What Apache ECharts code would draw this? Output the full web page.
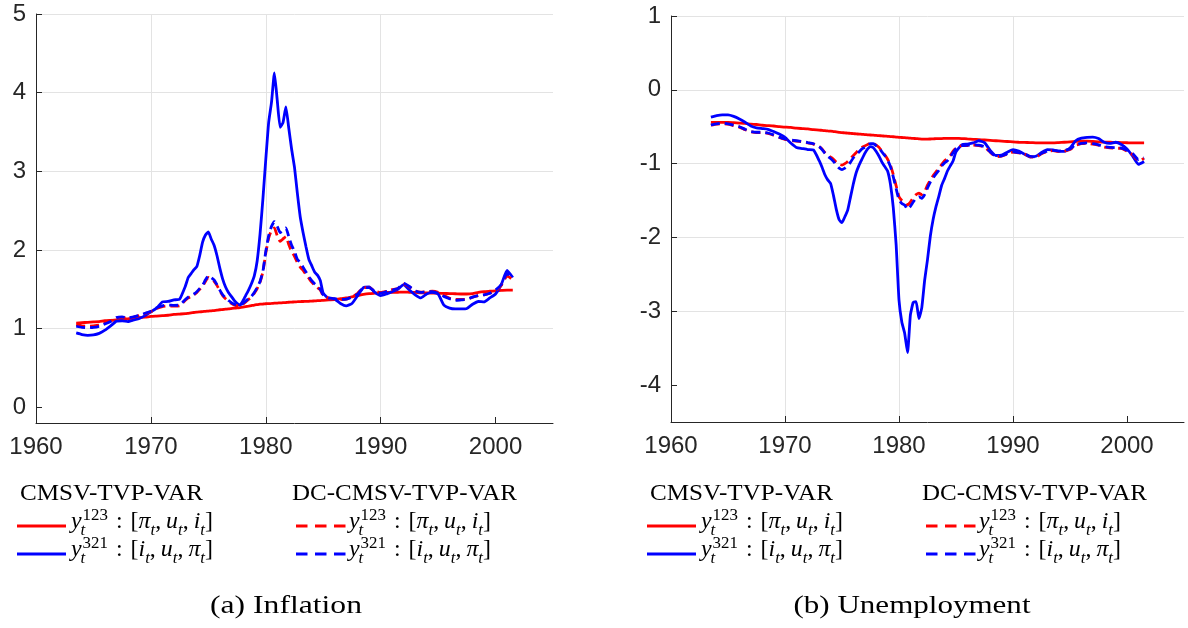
<!DOCTYPE html>
<html>
<head>
<meta charset="utf-8">
<script src="https://cdn.jsdelivr.net/npm/echarts@6/dist/echarts.min.js"></script>
<style>
html,body{margin:0;padding:0;background:#fff;}
#chart{width:1188px;height:628px;}
</style>
</head>
<body>
<div id="chart"></div>
<script>
// ---------- data ----------
const years = [
  1963.5,1964,1964.5,1965,1965.5,1966,1966.5,1967,1967.5,1968,1968.5,1969,1969.5,1970,1970.5,1971,1971.5,1972,1972.5,
  1973,1973.25,1973.5,1973.75,1974,1974.25,1974.5,1974.75,1975,1975.25,1975.5,1975.75,1976,1976.25,1976.5,1976.75,
  1977,1977.25,1977.5,1977.75,1978,1978.25,1978.5,1978.75,1979,1979.25,1979.5,1979.75,1980,1980.25,1980.5,1980.75,
  1981,1981.25,1981.5,1981.75,1982,1982.25,1982.5,1982.75,1983,1983.25,1983.5,1983.75,1984,1984.25,1984.5,1984.75,
  1985,1985.5,1986,1986.5,1987,1987.5,1988,1988.5,1989,1989.5,1990,1990.5,1991,1991.5,1992,1992.5,1993,1993.5,
  1994,1994.5,1995,1995.5,1996,1996.5,1997,1997.5,1998,1998.5,1999,1999.5,2000,2000.5,2001,2001.5
];
const xTicks = [1960,1970,1980,1990,2000];
const yTicksInfl = [0,1,2,3,4,5];
const yTicksUnemp = [-4,-3,-2,-1,0,1];

// Inflation, CMSV-TVP-VAR, ordering 123 (red solid)
const inflCMSV123 = [
  1.07,1.075,1.08,1.085,1.09,1.10,1.105,1.11,1.12,1.125,1.13,1.14,1.145,1.155,1.16,1.165,1.17,1.18,1.185,
  1.19,1.195,1.20,1.205,1.21,1.213,1.216,1.22,1.223,1.226,1.23,1.235,1.24,1.243,1.247,1.25,
  1.255,1.26,1.263,1.267,1.273,1.28,1.286,1.293,1.30,1.305,1.31,1.313,1.316,1.318,1.32,1.323,
  1.325,1.327,1.33,1.332,1.335,1.337,1.34,1.342,1.344,1.345,1.347,1.348,1.35,1.352,1.355,1.357,
  1.36,1.365,1.37,1.38,1.39,1.405,1.42,1.435,1.445,1.45,1.455,1.46,1.46,1.462,1.465,1.462,1.46,1.455,
  1.455,1.452,1.45,1.448,1.445,1.443,1.44,1.44,1.445,1.46,1.47,1.475,1.48,1.485,1.49,1.49
];
// Inflation, CMSV-TVP-VAR, ordering 321 (blue solid)
const inflCMSV321 = [
  0.945,0.925,0.915,0.92,0.94,0.98,1.035,1.095,1.10,1.09,1.11,1.13,1.165,1.215,1.26,1.34,1.345,1.365,1.375,
  1.54,1.65,1.70,1.75,1.79,1.93,2.10,2.19,2.23,2.14,2.06,1.93,1.77,1.63,1.53,1.46,
  1.41,1.36,1.32,1.30,1.35,1.42,1.49,1.57,1.67,1.86,2.20,2.65,3.15,3.62,3.88,4.25,
  3.90,3.56,3.62,3.82,3.55,3.28,3.05,2.72,2.42,2.22,2.04,1.88,1.80,1.72,1.68,1.61,
  1.45,1.38,1.375,1.32,1.29,1.32,1.42,1.52,1.53,1.46,1.42,1.44,1.47,1.50,1.56,1.49,1.43,1.39,
  1.44,1.46,1.44,1.30,1.26,1.25,1.25,1.255,1.31,1.345,1.34,1.39,1.44,1.56,1.74,1.65
];
// Inflation, DC-CMSV-TVP-VAR, ordering 123 (red dashed)
const inflDC123 = [
  1.05,1.035,1.03,1.035,1.045,1.07,1.10,1.135,1.14,1.13,1.145,1.165,1.19,1.215,1.255,1.28,1.29,1.285,1.29,
  1.36,1.39,1.41,1.43,1.46,1.50,1.54,1.60,1.65,1.63,1.60,1.55,1.48,1.42,1.38,1.35,
  1.32,1.30,1.29,1.295,1.31,1.34,1.37,1.40,1.45,1.51,1.59,1.72,1.96,2.15,2.25,2.28,
  2.18,2.11,2.14,2.17,2.07,1.98,1.92,1.84,1.78,1.74,1.69,1.64,1.59,1.55,1.52,1.49,
  1.42,1.385,1.375,1.37,1.375,1.40,1.45,1.52,1.52,1.475,1.46,1.475,1.495,1.51,1.565,1.53,1.48,1.465,
  1.47,1.475,1.46,1.42,1.385,1.37,1.37,1.375,1.40,1.42,1.43,1.45,1.48,1.55,1.67,1.62
];
// Inflation, DC-CMSV-TVP-VAR, ordering 321 (blue dashed)
const inflDC321 = [
  1.03,1.015,1.01,1.015,1.03,1.06,1.09,1.14,1.15,1.135,1.15,1.17,1.195,1.22,1.265,1.29,1.30,1.295,1.30,
  1.37,1.40,1.42,1.44,1.47,1.51,1.55,1.62,1.67,1.65,1.62,1.56,1.49,1.43,1.39,1.36,
  1.33,1.31,1.30,1.305,1.32,1.35,1.38,1.41,1.46,1.52,1.60,1.73,1.98,2.18,2.30,2.36,
  2.30,2.22,2.26,2.28,2.17,2.06,1.98,1.88,1.84,1.78,1.72,1.66,1.61,1.57,1.54,1.50,
  1.43,1.39,1.38,1.37,1.375,1.40,1.44,1.52,1.52,1.47,1.45,1.47,1.49,1.51,1.575,1.535,1.48,1.46,
  1.47,1.47,1.45,1.41,1.38,1.36,1.365,1.37,1.40,1.42,1.43,1.45,1.49,1.56,1.70,1.63
];

// Unemployment, CMSV-TVP-VAR, ordering 123 (red solid)
const unempCMSV123 = [
  -0.44,-0.44,-0.44,-0.44,-0.445,-0.45,-0.455,-0.465,-0.47,-0.48,-0.485,-0.49,-0.50,-0.505,-0.51,-0.52,-0.525,-0.53,-0.54,
  -0.545,-0.55,-0.553,-0.557,-0.56,-0.565,-0.57,-0.575,-0.58,-0.583,-0.587,-0.59,-0.593,-0.597,-0.60,-0.603,
  -0.606,-0.609,-0.612,-0.615,-0.618,-0.621,-0.624,-0.627,-0.63,-0.633,-0.636,-0.64,-0.643,-0.646,-0.649,-0.652,
  -0.655,-0.658,-0.661,-0.664,-0.667,-0.668,-0.668,-0.666,-0.664,-0.662,-0.66,-0.66,-0.658,-0.657,-0.657,-0.657,
  -0.658,-0.66,-0.665,-0.67,-0.675,-0.68,-0.685,-0.69,-0.695,-0.70,-0.705,-0.71,-0.712,-0.715,-0.718,-0.72,-0.72,-0.72,
  -0.715,-0.71,-0.705,-0.70,-0.695,-0.695,-0.70,-0.705,-0.708,-0.71,-0.712,-0.715,-0.717,-0.72,-0.72,-0.72
];
// Unemployment, CMSV-TVP-VAR, ordering 321 (blue solid)
const unempCMSV321 = [
  -0.37,-0.35,-0.34,-0.34,-0.36,-0.395,-0.44,-0.49,-0.515,-0.525,-0.535,-0.565,-0.60,-0.645,-0.72,-0.78,-0.795,-0.81,-0.815,
  -0.96,-1.05,-1.15,-1.22,-1.27,-1.43,-1.62,-1.76,-1.80,-1.72,-1.63,-1.45,-1.27,-1.12,-1.02,-0.94,
  -0.86,-0.80,-0.77,-0.785,-0.835,-0.90,-0.98,-1.04,-1.10,-1.28,-1.60,-2.10,-2.85,-3.15,-3.30,-3.56,
  -3.05,-2.88,-2.87,-3.10,-2.95,-2.58,-2.30,-1.98,-1.75,-1.58,-1.44,-1.29,-1.20,-1.10,-1.03,-0.96,
  -0.84,-0.745,-0.735,-0.72,-0.69,-0.715,-0.82,-0.89,-0.885,-0.845,-0.81,-0.83,-0.87,-0.91,-0.90,-0.85,-0.81,-0.815,
  -0.83,-0.835,-0.79,-0.69,-0.655,-0.645,-0.64,-0.66,-0.71,-0.725,-0.71,-0.74,-0.80,-0.90,-1.01,-0.97
];
// Unemployment, DC-CMSV-TVP-VAR, ordering 123 (red dashed)
const unempDC123 = [
  -0.48,-0.465,-0.46,-0.465,-0.485,-0.505,-0.54,-0.57,-0.58,-0.58,-0.59,-0.615,-0.645,-0.67,-0.685,-0.695,-0.705,-0.72,-0.735,
  -0.77,-0.80,-0.85,-0.88,-0.91,-0.94,-0.98,-1.01,-1.02,-1.00,-0.97,-0.93,-0.89,-0.85,-0.81,-0.78,
  -0.76,-0.74,-0.725,-0.725,-0.75,-0.78,-0.83,-0.88,-0.94,-1.02,-1.15,-1.30,-1.45,-1.50,-1.53,-1.56,
  -1.52,-1.46,-1.42,-1.40,-1.42,-1.38,-1.29,-1.22,-1.16,-1.11,-1.06,-1.01,-0.96,-0.93,-0.89,-0.83,
  -0.79,-0.755,-0.755,-0.75,-0.755,-0.775,-0.845,-0.905,-0.90,-0.87,-0.845,-0.855,-0.87,-0.905,-0.915,-0.865,-0.835,-0.825,
  -0.835,-0.83,-0.81,-0.75,-0.73,-0.725,-0.735,-0.75,-0.775,-0.785,-0.79,-0.795,-0.83,-0.88,-0.96,-0.93
];
// Unemployment, DC-CMSV-TVP-VAR, ordering 321 (blue dashed)
const unempDC321 = [
  -0.475,-0.46,-0.45,-0.46,-0.48,-0.50,-0.535,-0.565,-0.575,-0.575,-0.585,-0.61,-0.64,-0.665,-0.68,-0.69,-0.70,-0.715,-0.73,
  -0.77,-0.81,-0.86,-0.90,-0.93,-0.97,-1.02,-1.06,-1.08,-1.06,-1.03,-0.98,-0.92,-0.88,-0.84,-0.80,
  -0.78,-0.75,-0.73,-0.73,-0.755,-0.79,-0.84,-0.89,-0.95,-1.04,-1.18,-1.34,-1.49,-1.54,-1.56,-1.62,
  -1.58,-1.52,-1.47,-1.45,-1.47,-1.42,-1.33,-1.25,-1.19,-1.14,-1.09,-1.03,-0.99,-0.96,-0.91,-0.85,
  -0.80,-0.755,-0.75,-0.745,-0.75,-0.77,-0.84,-0.90,-0.895,-0.865,-0.84,-0.85,-0.865,-0.90,-0.91,-0.86,-0.83,-0.82,
  -0.83,-0.82,-0.80,-0.745,-0.725,-0.72,-0.73,-0.745,-0.77,-0.78,-0.785,-0.79,-0.82,-0.865,-0.945,-0.92
];

const modelNames = ['CMSV-TVP-VAR', 'DC-CMSV-TVP-VAR'];
const captions = ['(a) Inflation', '(b) Unemployment'];

// ---------- helpers ----------
const RED = '#ff0000', BLUE = '#0000ff';
const SANS = '"Liberation Sans", Arial, Helvetica, sans-serif';
const SERIF = '"Liberation Serif", "DejaVu Serif", serif';
const DASH = [9, 5];
const pairs = arr => years.map((y, i) => [y, arr[i]]);

const mctx = document.createElement('canvas').getContext('2d');
function measure(t, size, italic) {
  mctx.font = (italic ? 'italic ' : '') + size + 'px ' + SERIF;
  return mctx.measureText(t).width;
}

function makeText(t, x, base, size, italic, align) {
  return {
    type: 'text', x: x, y: base - 0.34 * size,
    style: { text: t, fontSize: size, fontFamily: SERIF, fontStyle: italic ? 'italic' : 'normal',
             fill: '#000', align: align || 'left', verticalAlign: 'middle' }
  };
}

function mathRow(supText, vars) {
  const M = 24, S = 17;
  const els = [];
  let x = 0;
  els.push(makeText('y', x, 0, M, true));
  const wy = measure('y', M, true);
  els.push(makeText(supText, x + wy + 1, -9, S, false));
  els.push(makeText('t', x + wy - 1, 6, S, true));
  x += wy + Math.max(measure(supText, S, false) + 1, measure('t', S, true) - 1);
  x += 8;
  els.push(makeText(':', x, 0, M, false));
  x += measure(':', M, false) + 8;
  els.push(makeText('[', x, 0, M, false));
  x += measure('[', M, false);
  vars.forEach((v, i) => {
    els.push(makeText(v, x, 0, M, true));
    x += measure(v, M, true);
    els.push(makeText('t', x, 6, S, true));
    x += measure('t', S, true);
    if (i < vars.length - 1) {
      els.push(makeText(',', x, 0, M, false));
      x += measure(',', M, false) + 5;
    }
  });
  els.push(makeText(']', x, 0, M, false));
  x += measure(']', M, false);
  return { els: els, width: x };
}

function fitText(t, x, yMid, size, targetW, align) {
  const w = measure(t, size, false);
  return {
    type: 'text', x: x, y: yMid, scaleX: targetW / w,
    style: { text: t, fontSize: size, fontFamily: SERIF, fill: '#000', align: align || 'left', verticalAlign: 'middle' }
  };
}

function legendBlock(off) {
  const g = [];
  g.push(fitText(modelNames[0], 20 + off, 494, 24, 183));
  g.push(fitText(modelNames[1], 292 + off, 494, 24, 225));
  const rows = [
    { y: 526, base: 530, color: RED, sup: '123', vars: ['\u03c0', 'u', 'i'] },
    { y: 554, base: 558, color: BLUE, sup: '321', vars: ['i', 'u', '\u03c0'] }
  ];
  rows.forEach(r => {
    g.push({ type: 'line', shape: { x1: 17 + off, y1: r.y, x2: 66 + off, y2: r.y },
             style: { stroke: r.color, lineWidth: 3 } });
    g.push({ type: 'line', shape: { x1: 296 + off, y1: r.y, x2: 346 + off, y2: r.y },
             style: { stroke: r.color, lineWidth: 3, lineDash: [11.5, 7.5] } });
    [71 + off, 349 + off].forEach(x0 => {
      const m = mathRow(r.sup, r.vars);
      g.push({ type: 'group', x: x0, y: r.base, scaleX: 142 / m.width, children: m.els });
    });
  });
  return g;
}

// ---------- chart ----------
function xAxis(grid) {
  return {
    type: 'value', gridIndex: grid, min: 1960, max: 2005, interval: 10,
    axisLine: { onZero: false, lineStyle: { color: '#262626', width: 1 } },
    axisTick: { inside: true, length: 6, lineStyle: { color: '#262626' }, customValues: xTicks },
    axisLabel: { color: '#262626', fontSize: 24, fontFamily: SANS, margin: 12, customValues: xTicks,
                 formatter: v => String(v) },
    splitLine: { show: true, showMaxLine: false, showMinLine: false, lineStyle: { color: '#e3e3e3', width: 1 } }
  };
}
function yAxis(grid, min, max, ticks) {
  return {
    type: 'value', gridIndex: grid, min: min, max: max, minInterval: 1, maxInterval: 1,
    axisLine: { show: true, onZero: false, lineStyle: { color: '#262626', width: 1 } },
    axisTick: { show: true, inside: true, length: 6, lineStyle: { color: '#262626' }, customValues: ticks },
    axisLabel: { color: '#262626', fontSize: 24, fontFamily: SANS, margin: 10, customValues: ticks,
                 formatter: v => String(v) },
    splitLine: { show: true, showMinLine: false, lineStyle: { color: '#e3e3e3', width: 1 } }
  };
}
function line(data, color, dashed, xi) {
  return {
    type: 'line', xAxisIndex: xi, yAxisIndex: xi, data: pairs(data),
    showSymbol: false, symbol: 'none', smooth: 0.15, silent: true,
    lineStyle: { color: color, width: 2.8, type: dashed ? DASH : 'solid' },
    itemStyle: { color: color }
  };
}

const chart = echarts.init(document.getElementById('chart'), null, { renderer: 'canvas' });
chart.setOption({
  animation: false,
  backgroundColor: '#fff',
  grid: [
    { left: 36, right: 635, top: 14, bottom: 205 },
    { left: 671, right: 4, top: 16, bottom: 206 }
  ],
  xAxis: [xAxis(0), xAxis(1)],
  yAxis: [yAxis(0, -0.2, 5, yTicksInfl), yAxis(1, -4.5, 1, yTicksUnemp)],
  series: [
    line(inflCMSV123, RED, false, 0),
    line(inflCMSV321, BLUE, false, 0),
    line(inflDC123, RED, true, 0),
    line(inflDC321, BLUE, true, 0),
    line(unempCMSV123, RED, false, 1),
    line(unempCMSV321, BLUE, false, 1),
    line(unempDC123, RED, true, 1),
    line(unempDC321, BLUE, true, 1)
  ],
  graphic: [].concat(
    legendBlock(0),
    legendBlock(630),
    [fitText(captions[0], 286, 606, 25, 152, 'center'),
     fitText(captions[1], 912, 606, 25, 237, 'center')]
  )
});
</script>
</body>
</html>
